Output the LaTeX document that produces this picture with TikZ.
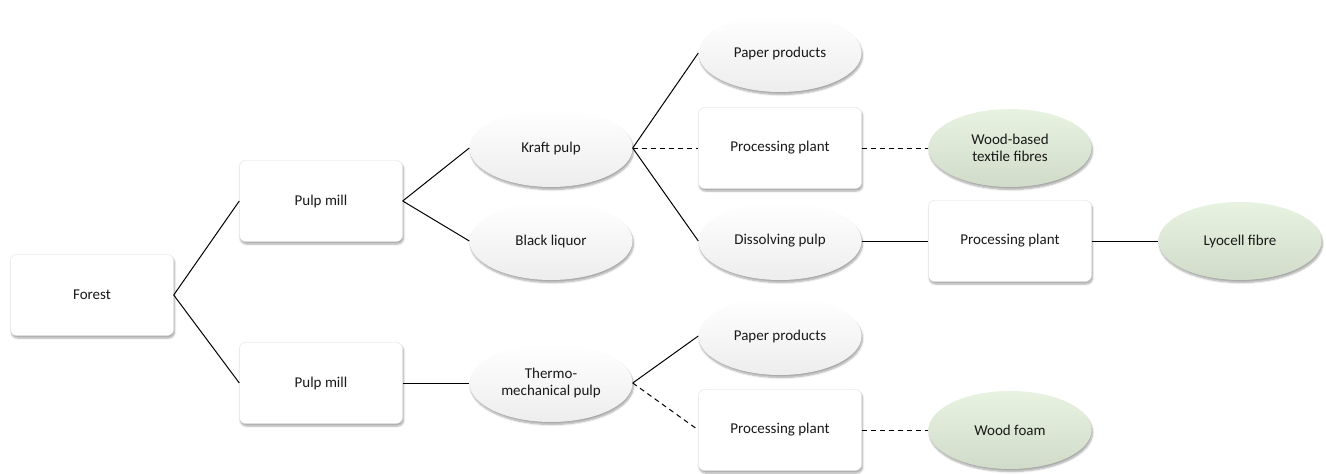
\documentclass[tikz,border=0pt]{standalone}
\usepackage{fontspec}
\setmainfont{Carlito}
\usetikzlibrary{shapes.geometric,shadows.blur}
\definecolor{greenfill}{HTML}{E2EFDA}
\tikzset{
  box/.style={rectangle, rounded corners=6pt, draw=gray!25, fill=white, minimum width=163pt, minimum height=81pt, inner sep=0pt, align=center, font=\fontsize{15}{17}\selectfont, text=black!90, blur shadow={shadow xshift=1pt, shadow yshift=-2.5pt, shadow blur steps=6, shadow opacity=35}},
  oval/.style={ellipse, top color=white, middle color=white, bottom color=gray!14, minimum width=163pt, minimum height=78pt, inner sep=0pt, align=center, font=\fontsize{15}{17}\selectfont, text=black!90, blur shadow={shadow xshift=1pt, shadow yshift=-2.5pt, shadow blur steps=6, shadow opacity=35}},
  goval/.style={oval, top color=greenfill!80!white, middle color=greenfill, bottom color=greenfill!92!black},
  link/.style={line width=1pt, black},
  dlink/.style={link, dash pattern=on 5pt off 4pt},
}
\begin{document}
\begin{tikzpicture}[x=1pt, y=-1pt]
\useasboundingbox (0,0) rectangle (1326,474);
\node[box] (forest) at (92,295) {Forest};
\node[box] (pm1) at (321,201) {Pulp mill};
\node[box] (pm2) at (321,383) {Pulp mill};
\node[oval] (kraft) at (551,148) {Kraft pulp};
\node[oval] (black) at (551,241) {Black liquor};
\node[oval] (thermo) at (551,383) {Thermo-\\mechanical pulp};
\node[oval] (pp1) at (780,53) {Paper products};
\node[box] (proc1) at (780,148) {Processing plant};
\node[oval] (diss) at (780,241) {Dissolving pulp};
\node[oval] (pp2) at (780,336) {Paper products};
\node[box] (proc3) at (780,430) {Processing plant};
\node[goval] (wood) at (1010,148) {Wood-based\\textile fibres};
\node[box] (proc2) at (1010,241) {Processing plant};
\node[goval] (foam) at (1010,430) {Wood foam};
\node[goval] (lyo) at (1240,241) {Lyocell fibre};
\draw[link] (forest.east) -- (pm1.west);
\draw[link] (forest.east) -- (pm2.west);
\draw[link] (pm1.east) -- (kraft.west);
\draw[link] (pm1.east) -- (black.west);
\draw[link] (pm2.east) -- (thermo.west);
\draw[link] (kraft.east) -- (pp1.west);
\draw[dlink] (kraft.east) -- (proc1.west);
\draw[link] (kraft.east) -- (diss.west);
\draw[dlink] (proc1.east) -- (wood.west);
\draw[link] (diss.east) -- (proc2.west);
\draw[link] (proc2.east) -- (lyo.west);
\draw[link] (thermo.east) -- (pp2.west);
\draw[dlink] (thermo.east) -- (proc3.west);
\draw[dlink] (proc3.east) -- (foam.west);
\end{tikzpicture}
\end{document}
